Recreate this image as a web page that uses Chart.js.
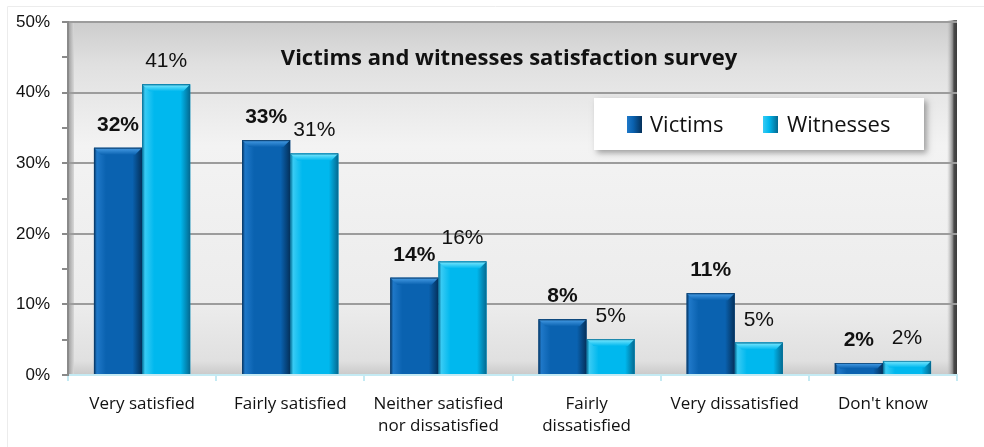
<!DOCTYPE html>
<html>
<head>
<meta charset="utf-8">
<script src="https://cdn.jsdelivr.net/npm/chart.js@4.4.1/dist/chart.umd.min.js"></script>
<style>
  body { margin: 0; background: #fff; }
  #wrap { width: 984px; height: 447px; position: relative; }
</style>
</head>
<body>
<div id="wrap"><canvas id="surveyChart"></canvas></div>
<script>
// data
const categories = [
    ['Very satisfied'],
    ['Fairly satisfied'],
    ['Neither satisfied', 'nor dissatisfied'],
    ['Fairly', 'dissatisfied'],
    ['Very dissatisfied'],
    ["Don't know"]
];
const victims = [32.2, 33.3, 13.8, 7.9, 11.6, 1.7];
const witnesses = [41.2, 31.4, 16.1, 5.1, 4.6, 2.0];
const victimLabels = ['32%', '33%', '14%', '8%', '11%', '2%'];
const witnessLabels = ['41%', '31%', '16%', '5%', '5%', '2%'];
const yMin = 0, yMax = 50, yStep = 5;
const chartTitle = 'Victims and witnesses satisfaction survey';

const shades = [
    { base: '#0a62b0', light: '#1f78c8', dark: '#04305a', top: '#3a90da' },
    { base: '#00b8ee', light: '#38cbf4', dark: '#04688f', top: '#62defb' }
];

// plot background, wall and frame
const backdrop = {
    id: 'backdrop',
    beforeDraw(chart) {
        const { ctx, chartArea: a } = chart;
        ctx.save();
        const g = ctx.createLinearGradient(0, a.top, 0, a.bottom);
        g.addColorStop(0, '#cdcdcd');
        g.addColorStop(0.12, '#e0e0e0');
        g.addColorStop(0.35, '#f3f3f3');
        g.addColorStop(0.8, '#ececec');
        g.addColorStop(0.96, '#e0e0e0');
        g.addColorStop(1, '#c9c9c9');
        ctx.fillStyle = g;
        ctx.fillRect(a.left, a.top, a.right - a.left, a.bottom - a.top);
        // left wall
        const w = ctx.createLinearGradient(a.left, 0, a.left + 6, 0);
        w.addColorStop(0, '#9a9a9a');
        w.addColorStop(1, '#d8d8d8');
        ctx.fillStyle = w;
        ctx.fillRect(a.left, a.top, 6, a.bottom - a.top);
        // right wall
        const rw = ctx.createLinearGradient(a.right - 10, 0, a.right, 0);
        rw.addColorStop(0, 'rgba(190,190,190,0)');
        rw.addColorStop(0.55, '#8c8c8c');
        rw.addColorStop(0.7, '#4a4a4a');
        rw.addColorStop(1, '#3c3c3c');
        ctx.fillStyle = rw;
        ctx.fillRect(a.right - 10, a.top - 2, 10, a.bottom - a.top + 2);
        // faint outer frame, top and left only
        ctx.strokeStyle = '#ececec';
        ctx.lineWidth = 1;
        ctx.beginPath();
        ctx.moveTo(7.5, 447);
        ctx.lineTo(7.5, 6.5);
        ctx.lineTo(984, 6.5);
        ctx.stroke();
        ctx.restore();
    }
};

// bevelled bars, value labels, title and legend
const decorate = {
    id: 'decorate',
    afterDatasetsDraw(chart) {
        const { ctx } = chart;
        ctx.save();
        chart.data.datasets.forEach((ds, di) => {
            const s = shades[di];
            chart.getDatasetMeta(di).data.forEach((bar, i) => {
                const l = bar.x - bar.width / 2, r = bar.x + bar.width / 2;
                const t = bar.y, b = bar.base;
                const g = ctx.createLinearGradient(l, 0, r, 0);
                g.addColorStop(0, s.dark);
                g.addColorStop(0.06, s.light);
                g.addColorStop(0.25, s.base);
                g.addColorStop(0.8, s.base);
                g.addColorStop(1, s.dark);
                ctx.fillStyle = g;
                ctx.fillRect(l, t, r - l, b - t);
                const bev = Math.min(7, (b - t) / 2);
                const tg = ctx.createLinearGradient(0, t, 0, t + bev);
                tg.addColorStop(0, s.dark);
                tg.addColorStop(0.25, s.top);
                tg.addColorStop(1, s.base);
                ctx.fillStyle = tg;
                ctx.beginPath();
                ctx.moveTo(l, t);
                ctx.lineTo(r, t);
                ctx.lineTo(r - bev, t + bev);
                ctx.lineTo(l + bev, t + bev);
                ctx.closePath();
                ctx.fill();
                // value label
                ctx.fillStyle = '#111';
                ctx.textAlign = 'center';
                ctx.textBaseline = 'alphabetic';
                ctx.font = (di === 0 ? 'bold ' : '') + '21px "Liberation Sans", Arial, sans-serif';
                const txt = di === 0 ? victimLabels[i] : witnessLabels[i];
                ctx.fillText(txt, bar.x, t - 17);
            });
        });

        // title
        ctx.fillStyle = '#111';
        ctx.textAlign = 'center';
        ctx.textBaseline = 'middle';
        ctx.font = 'bold 22px "Open Sans", Lato, sans-serif';
        ctx.fillText(chartTitle, 509, 59);

        // legend box
        const lx = 594, ly = 98, lw = 330, lh = 52;
        ctx.shadowColor = 'rgba(0,0,0,0.35)';
        ctx.shadowBlur = 6;
        ctx.shadowOffsetX = 3;
        ctx.shadowOffsetY = 3;
        ctx.fillStyle = '#fff';
        ctx.fillRect(lx, ly, lw, lh);
        ctx.shadowColor = 'transparent';
        ctx.font = '22px "Open Sans", Lato, sans-serif';
        ctx.textAlign = 'left';
        const items = [{ x: 627, tx: 650 }, { x: 763, tx: 787 }];
        chart.data.datasets.forEach((ds, di) => {
            const s = shades[di];
            const it = items[di];
            const g = ctx.createLinearGradient(it.x, 0, it.x + 15, 0);
            g.addColorStop(0, s.light);
            g.addColorStop(0.4, s.base);
            g.addColorStop(1, s.dark);
            ctx.fillStyle = g;
            ctx.fillRect(it.x, 116, 15, 17);
            ctx.fillStyle = '#111';
            ctx.fillText(ds.label, it.tx, 126);
        });
        ctx.restore();
    }
};

const ctx = document.getElementById('surveyChart').getContext('2d');
const surveyChart = new Chart(ctx, {
    type: 'bar',
    data: {
        labels: categories,
        datasets: [{
            label: 'Victims',
            data: victims,
            backgroundColor: shades[0].base,
            borderWidth: 0
        }, {
            label: 'Witnesses',
            data: witnesses,
            backgroundColor: shades[1].base,
            borderWidth: 0
        }]
    },
    options: {
        responsive: true,
        maintainAspectRatio: false,
        animation: false,
        layout: { padding: { top: 20, right: 27, left: 0, bottom: 0 } },
        categoryPercentage: 0.65,
        barPercentage: 1,
        plugins: {
            legend: { display: false },
            tooltip: { enabled: false }
        },
        scales: {
            x: {
                grid: {
                    drawOnChartArea: false,
                    color: '#c4eaf3',
                    tickLength: 6,
                    lineWidth: 2
                },
                border: { color: '#c4eaf3', width: 2 },
                ticks: {
                    color: '#111',
                    padding: 12,
                    font: { family: '"Open Sans", Lato, sans-serif', size: 17, lineHeight: 1.3 }
                },
                afterFit(scale) { scale.height = 72; }
            },
            y: {
                min: yMin,
                max: yMax,
                ticks: {
                    stepSize: yStep,
                    color: '#111',
                    padding: 12,
                    font: { family: '"Liberation Sans", Arial, sans-serif', size: 17 },
                    callback: v => v % 10 === 0 ? v + '%' : ''
                },
                grid: {
                    color: c => (c.tick && c.tick.value % 10 === 0 && c.tick.value !== 0) ? '#9c9c9c' : 'rgba(0,0,0,0)',
                    tickColor: '#8a8a8a',
                    lineWidth: 2,
                    tickLength: 6
                },
                border: { color: '#8a8a8a', width: 2 },
                afterFit(scale) { scale.width = 68; }
            }
        }
    },
    plugins: [backdrop, decorate]
});
</script>
</body>
</html>
